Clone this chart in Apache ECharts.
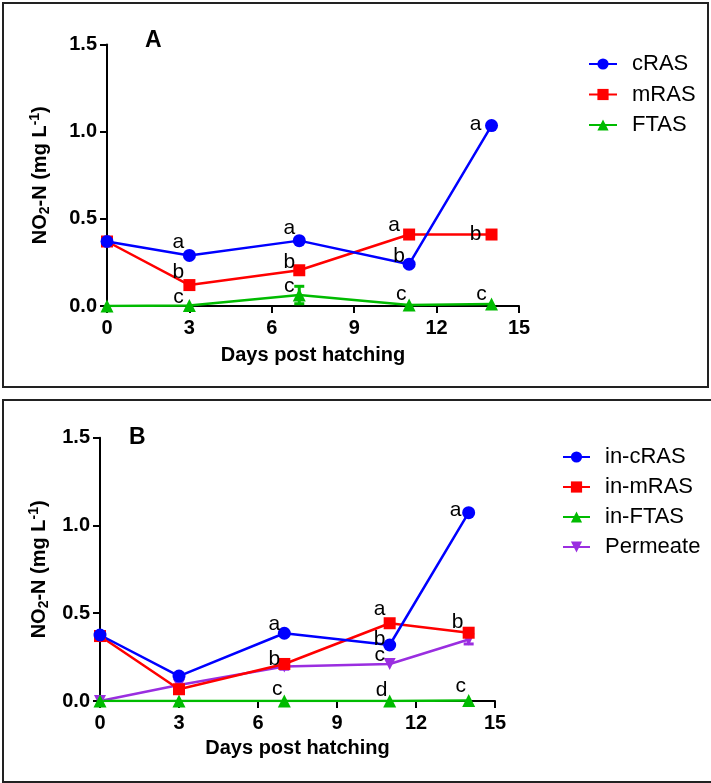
<!DOCTYPE html>
<html>
<head>
<meta charset="utf-8">
<script src="https://cdn.jsdelivr.net/npm/echarts@6/dist/echarts.min.js"></script>
<style>
html,body{margin:0;padding:0;background:#fff;}
#chart{width:711px;height:783px;}
</style>
</head>
<body>
<div id="chart"></div>
<script>
// ---------- DATA ----------
const days = [0, 3, 7, 11, 14];
const xTicks = [0, 3, 6, 9, 12, 15];
const yTicks = [0, 0.5, 1.0, 1.5];

// Panel A
const cRAS = [0.370, 0.290, 0.375, 0.240, 1.035];
const mRAS = [0.370, 0.120, 0.205, 0.410, 0.410];
const FTAS = [0.000, 0.003, 0.063, 0.006, 0.011];
const FTAS_err = [0, 0, 0.050, 0, 0];
const lettersCRAS = ['', 'a', 'a', 'b', 'a'];
const lettersMRAS = ['', 'b', 'b', 'a', 'b'];
const lettersFTAS = ['', 'c', 'c', 'c', 'c'];

// Panel B
const inCRAS = [0.376, 0.142, 0.386, 0.319, 1.073];
const inMRAS = [0.370, 0.067, 0.211, 0.443, 0.389];
const inFTAS = [0.000, 0.000, 0.000, 0.000, 0.003];
const permeate = [0.000, 0.091, 0.196, 0.211, 0.350];
const permeate_err = [0, 0, 0.015, 0, 0.025];
const lettersInCRAS = ['', '', 'a', 'b', 'a'];
const lettersInMRAS = ['', '', 'b', 'a', 'b'];
const lettersInFTAS = ['', '', 'c', 'd', 'c'];
const lettersPermeate = ['', '', '', 'c', ''];

// ---------- STYLE ----------
const FONT = 'Liberation Sans, Arial, sans-serif';
const BLUE = '#0000ff', RED = '#ff0000', GREEN = '#00bb00', PURPLE = '#9a2ee0';

const offA = {
  cRAS: [null, [-11, -13], [-10, -12], [-10, -8], [-16, -1]],
  mRAS: [null, [-11, -13], [-10, -8], [-15, -9], [-16, 0]],
  FTAS: [null, [-11, -8], [-10, -9], [-8, -11], [-10, -10]]
};
const offB = {
  inCRAS: [null, null, [-10, -9], [-10, -6], [-13, -2]],
  inMRAS: [null, null, [-10, -5], [-10, -14], [-11, -11]],
  inFTAS: [null, null, [-7, -12], [-8, -11], [-8, -14]],
  permeate: [null, null, null, [-10, -9], null]
};

function pts(vals, letters, offs) {
  return days.map((d, i) => {
    const l = letters[i];
    const item = { value: [d, vals[i]] };
    if (l) {
      item.label = {
        show: true, position: 'inside', formatter: l, offset: offs[i] || [0, 0],
        color: '#000', fontSize: 21, fontFamily: FONT, fontWeight: 'normal'
      };
    } else {
      item.label = { show: false };
    }
    return item;
  });
}

function lineSeries(name, idx, vals, letters, offs, color, symbol, size) {
  return {
    name, type: 'line', xAxisIndex: idx, yAxisIndex: idx,
    data: pts(vals, letters, offs),
    symbol, symbolSize: size, showSymbol: true,
    lineStyle: { color, width: 2.5 },
    itemStyle: { color, borderWidth: 0 },
    emphasis: { disabled: true },
    z: 4,
    animation: false
  };
}

function errSeries(idx, vals, errs, color) {
  const data = days.map((d, i) => [d, vals[i], errs[i]]).filter(r => r[2] > 0);
  return {
    type: 'custom', xAxisIndex: idx, yAxisIndex: idx, data, silent: true, z: 2,
    animation: false,
    renderItem: function (params, api) {
      const x = api.value(0), y = api.value(1), e = api.value(2);
      const top = api.coord([x, y + e]);
      const bot = api.coord([x, Math.max(0, y - e)]);
      const w = 5;
      return {
        type: 'group',
        children: [
          { type: 'line', shape: { x1: top[0], y1: top[1], x2: bot[0], y2: bot[1] }, style: { stroke: color, lineWidth: 3 } },
          { type: 'line', shape: { x1: top[0] - w, y1: top[1], x2: top[0] + w, y2: top[1] }, style: { stroke: color, lineWidth: 3 } },
          { type: 'line', shape: { x1: bot[0] - w, y1: bot[1], x2: bot[0] + w, y2: bot[1] }, style: { stroke: color, lineWidth: 3 } }
        ]
      };
    }
  };
}

const axisLine = { show: true, onZero: false, lineStyle: { color: '#000', width: 2 } };
const axisTick = { show: true, inside: false, length: 7, lineStyle: { color: '#000', width: 2 } };
const tickFont = { color: '#000', fontSize: 20, fontWeight: 'bold', fontFamily: FONT };

function xAxis(idx, gap) {
  return {
    type: 'value', gridIndex: idx, min: xTicks[0], max: xTicks[xTicks.length - 1], interval: 3,
    axisLine, axisTick, splitLine: { show: false },
    axisLabel: Object.assign({ margin: 12 }, tickFont),
    name: 'Days post hatching', nameLocation: 'middle', nameGap: gap,
    nameTextStyle: { color: '#000', fontSize: 20, fontWeight: 'bold', fontFamily: FONT }
  };
}
const nameRich = {
  b: { fontSize: 20, fontWeight: 'bold', fontFamily: FONT, color: '#000', lineHeight: 24 },
  s: { fontSize: 14, fontWeight: 'bold', fontFamily: FONT, color: '#000', lineHeight: 14, verticalAlign: 'bottom' },
  p: { fontSize: 14, fontWeight: 'bold', fontFamily: FONT, color: '#000', lineHeight: 14, verticalAlign: 'top' }
};
function yAxis(idx, gap) {
  return {
    type: 'value', gridIndex: idx, min: yTicks[0], max: yTicks[yTicks.length - 1], interval: 0.5,
    axisLine, axisTick, splitLine: { show: false },
    axisLabel: Object.assign({ margin: 10, formatter: v => v.toFixed(1) }, tickFont),
    name: '{b|NO}{s|2}{b|-N (mg L}{p|-1}{b|)}', nameLocation: 'middle', nameGap: gap, nameRotate: 90,
    nameTextStyle: { rich: nameRich }
  };
}

const legendText = { color: '#000', fontSize: 22, fontFamily: FONT, lineHeight: 22, padding: [0, 0, 0, 10] };

const option = {
  backgroundColor: '#fff',
  animation: false,
  grid: [
    { left: 107, top: 44.5, width: 412, height: 261.5 },
    { left: 100, top: 437.7, width: 395, height: 263.3 }
  ],
  xAxis: [xAxis(0, 39), xAxis(1, 37)],
  yAxis: [yAxis(0, 55), yAxis(1, 48)],
  legend: [
    {
      data: ['cRAS', 'mRAS', 'FTAS'], orient: 'vertical', left: 583, top: 48,
      itemWidth: 28, itemHeight: 14, itemGap: 8.5, textStyle: legendText, selectedMode: false
    },
    {
      data: ['in-cRAS', 'in-mRAS', 'in-FTAS', 'Permeate'], orient: 'vertical', left: 557, top: 441,
      itemWidth: 27, itemHeight: 14, itemGap: 8, textStyle: legendText, selectedMode: false
    }
  ],
  graphic: [
    { type: 'rect', shape: { x: 3, y: 3, width: 705, height: 384 }, style: { fill: 'none', stroke: '#222', lineWidth: 2 }, z: 100, silent: true },
    { type: 'rect', shape: { x: 3, y: 400, width: 740, height: 382 }, style: { fill: 'none', stroke: '#222', lineWidth: 2 }, z: 100, silent: true },
    { type: 'text', left: 145, top: 29, style: { text: 'A', fontSize: 23, fontWeight: 'bold', fontFamily: FONT, fill: '#000' } },
    { type: 'text', left: 129, top: 426, style: { text: 'B', fontSize: 23, fontWeight: 'bold', fontFamily: FONT, fill: '#000' } }
  ],
  series: [
    errSeries(0, FTAS, FTAS_err, GREEN),
    lineSeries('FTAS', 0, FTAS, lettersFTAS, offA.FTAS, GREEN, 'triangle', 13),
    lineSeries('mRAS', 0, mRAS, lettersMRAS, offA.mRAS, RED, 'rect', 12),
    lineSeries('cRAS', 0, cRAS, lettersCRAS, offA.cRAS, BLUE, 'circle', 13),

    errSeries(1, permeate, permeate_err, PURPLE),
    lineSeries('Permeate', 1, permeate, lettersPermeate, offB.permeate, PURPLE, 'path://M0,0 L10,0 L5,10 Z', 12),
    lineSeries('in-FTAS', 1, inFTAS, lettersInFTAS, offB.inFTAS, GREEN, 'triangle', 13),
    lineSeries('in-mRAS', 1, inMRAS, lettersInMRAS, offB.inMRAS, RED, 'rect', 12),
    lineSeries('in-cRAS', 1, inCRAS, lettersInCRAS, offB.inCRAS, BLUE, 'circle', 13)
  ]
};

const chart = echarts.init(document.getElementById('chart'), null, { renderer: 'canvas' });
chart.setOption(option);
</script>
</body>
</html>
